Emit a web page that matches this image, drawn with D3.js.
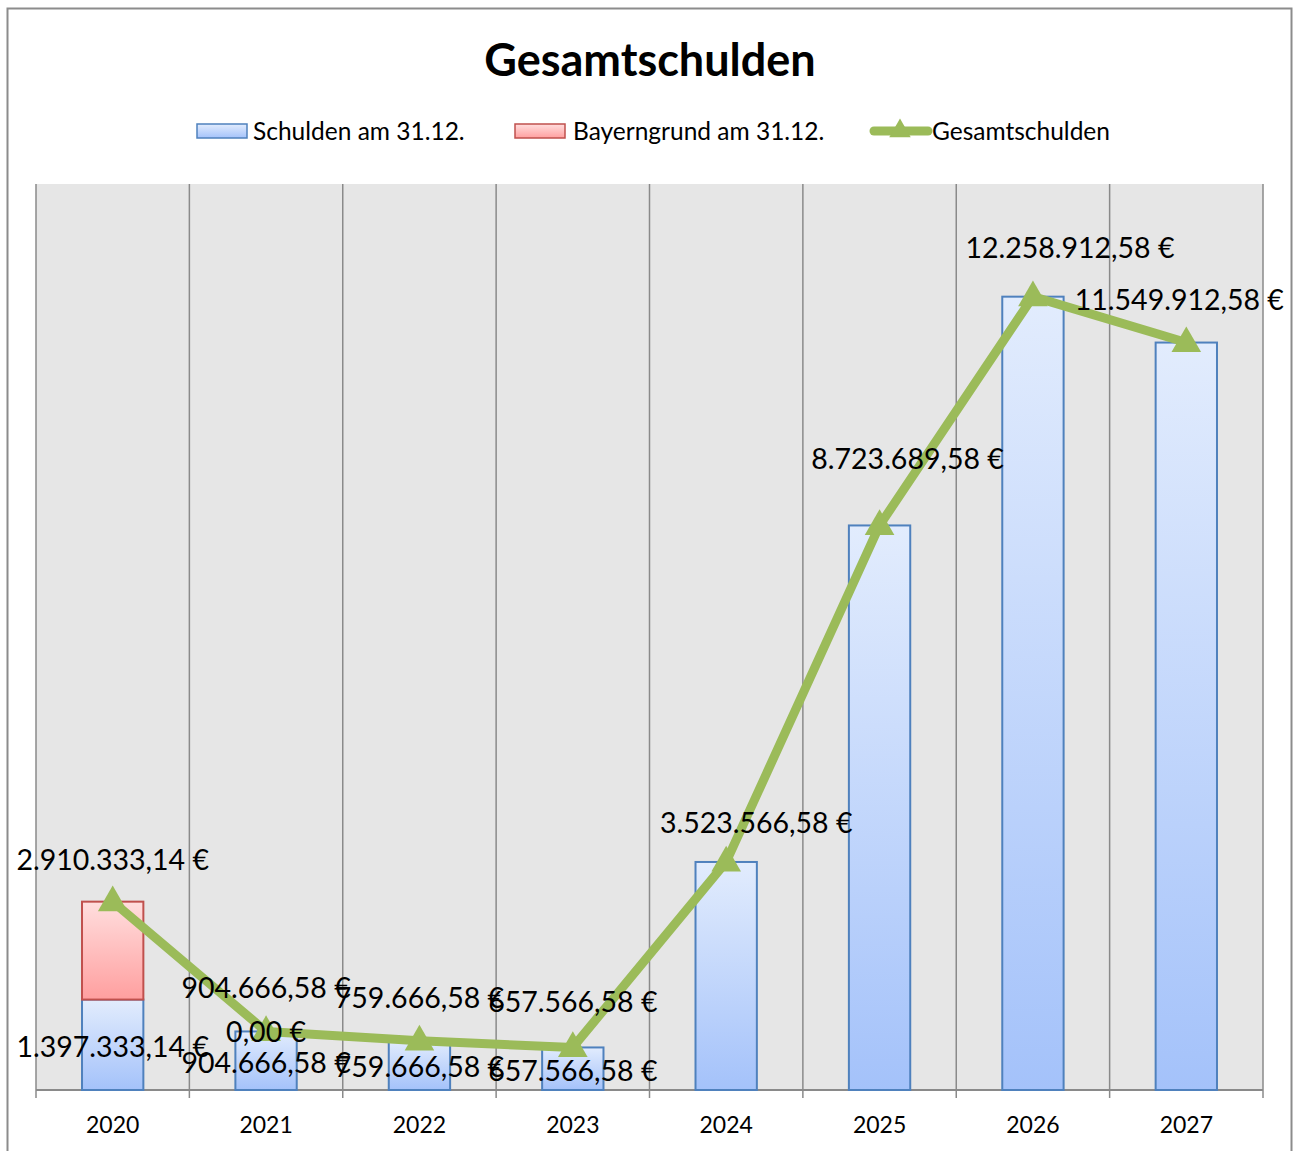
<!DOCTYPE html>
<html><head><meta charset="utf-8">
<script src="https://cdn.jsdelivr.net/npm/d3@7"></script>
<style>html,body{margin:0;padding:0;background:#fff}svg{display:block}</style>
</head><body>
<script>
const years = ["2020","2021","2022","2023","2024","2025","2026","2027"];
const schulden = [1397333.14, 904666.58, 759666.58, 657566.58, 3523566.58, 8723689.58, 12258912.58, 11549912.58];
const bayerngrund = [1513000.00, 0, null, null, null, null, null, null];
const gesamt = [2910333.14, 904666.58, 759666.58, 657566.58, 3523566.58, 8723689.58, 12258912.58, 11549912.58];
const showSchuldenLabel = [true, true, true, true, false, false, false, false];
const showBayernLabel = [false, true, false, false, false, false, false, false];
const yTicksMax = 14000000;
// label layout nudges (pixels), not data
const lineLabelNudge = [[0,-43],[0,-44],[0,-44],[0,-46],[30,-40],[28,-67],[37,-50],[-7,-44]];

const W = 1296, H = 1151;
const svg = d3.select("body").append("svg").attr("width", W).attr("height", H);
const defs = svg.append("defs");
const gb = defs.append("linearGradient").attr("id","gBlue").attr("x1",0).attr("y1",0).attr("x2",0).attr("y2",1);
gb.append("stop").attr("offset","0%").attr("stop-color","#e2ecfd");
gb.append("stop").attr("offset","100%").attr("stop-color","#a4c2fa");
const gr = defs.append("linearGradient").attr("id","gRed").attr("x1",0).attr("y1",0).attr("x2",0).attr("y2",1);
gr.append("stop").attr("offset","0%").attr("stop-color","#ffdede");
gr.append("stop").attr("offset","100%").attr("stop-color","#ff9f9f");

// outer border
svg.append("rect").attr("x",7.5).attr("y",8.5).attr("width",1284).attr("height",1160)
  .attr("fill","#fff").attr("stroke","#8c8c8c").attr("stroke-width",2);

const L = 36, R = 1263, T = 184, B = 1090;
const xGrid = d3.scaleBand().domain(years).range([L, R]).padding(0);
const x = d3.scaleBand().domain(years).range([L, R]).paddingInner(0.6).paddingOuter(0.3);
const y = d3.scaleLinear().domain([0, yTicksMax]).range([B, T]);
const fmt = v => {
  const s = v.toFixed(2).split(".");
  return s[0].replace(/\B(?=(\d{3})+(?!\d))/g, ".") + "," + s[1] + " €";
};

// plot background
svg.append("rect").attr("x",L).attr("y",T).attr("width",R-L).attr("height",B-T).attr("fill","#e6e6e6");
// vertical gridlines at category boundaries
const bounds = years.map(d => xGrid(d)).concat([R]);
svg.append("g").selectAll("line").data(bounds).join("line")
  .attr("x1", d=>d).attr("x2", d=>d).attr("y1", T).attr("y2", B)
  .attr("stroke","#8a8a8a").attr("stroke-width",1.5);

// x axis
const ax = svg.append("g").attr("transform",`translate(0,${B})`);
ax.append("line").attr("x1",L).attr("x2",R).attr("stroke","#8a8a8a").attr("stroke-width",2);
ax.selectAll("line.tk").data(bounds).join("line").attr("class","tk")
  .attr("x1",d=>d).attr("x2",d=>d).attr("y1",0).attr("y2",8).attr("stroke","#8a8a8a").attr("stroke-width",1.5);
ax.selectAll("text").data(years).join("text")
  .attr("x", d => xGrid(d) + xGrid.bandwidth()/2).attr("y", 43)
  .attr("text-anchor","middle").attr("font-family","Lato, 'Open Sans', sans-serif").attr("font-size",23)
  .attr("fill","#000").text(d=>d);

// bars
const bars = svg.append("g");
bars.selectAll("rect.s").data(years).join("rect").attr("class","s")
  .attr("x", d => x(d)).attr("width", x.bandwidth())
  .attr("y", (d,i) => y(schulden[i])).attr("height", (d,i) => B - y(schulden[i]))
  .attr("fill","url(#gBlue)").attr("stroke","#4f81bd").attr("stroke-width",2);
bars.selectAll("rect.b").data(years.filter((d,i)=>bayerngrund[i])).join("rect").attr("class","b")
  .attr("x", d => x(d)).attr("width", x.bandwidth())
  .attr("y", d => { const i = years.indexOf(d); return y(schulden[i] + bayerngrund[i]); })
  .attr("height", d => { const i = years.indexOf(d); return y(schulden[i]) - y(schulden[i] + bayerngrund[i]); })
  .attr("fill","url(#gRed)").attr("stroke","#c0504d").attr("stroke-width",2);

// line
const cx = d => x(d) + x.bandwidth()/2;
const line = d3.line().x((d,i)=>cx(years[i])).y(d=>y(d));
svg.append("path").datum(gesamt).attr("d", line)
  .attr("fill","none").attr("stroke","#9bbb59").attr("stroke-width",9).attr("stroke-linejoin","round");
const tri = d3.symbol().type(d3.symbolTriangle).size(380);
svg.append("g").selectAll("path").data(gesamt).join("path")
  .attr("transform",(d,i)=>`translate(${cx(years[i])},${y(d)+1})`)
  .attr("d", tri).attr("fill","#9bbb59");

// labels
const lab = svg.append("g").attr("font-family","Lato, 'Open Sans', sans-serif").attr("font-size",28.5)
  .attr("fill","#000").attr("text-anchor","middle").attr("dominant-baseline","central");
years.forEach((d,i) => {
  if (showSchuldenLabel[i]) {
    lab.append("text").attr("x", cx(d)).attr("y", (y(schulden[i]) + B)/2 + 1).text(fmt(schulden[i]));
  }
});
years.forEach((d,i) => {
  const n = lineLabelNudge[i];
  lab.append("text").attr("x", cx(d) + n[0]).attr("y", y(gesamt[i]) + n[1]).text(fmt(gesamt[i]));
});
years.forEach((d,i) => {
  if (showBayernLabel[i]) {
    const top = y(schulden[i] + bayerngrund[i]), bot = y(schulden[i]);
    lab.append("text").attr("x", cx(d)).attr("y", (top+bot)/2).text(fmt(bayerngrund[i]));
  }
});

// title
svg.append("text").attr("x", 650).attr("y", 76).attr("text-anchor","middle")
  .attr("font-family","Lato, 'Open Sans', sans-serif").attr("font-weight","bold").attr("font-size",45)
  .text("Gesamtschulden");

// legend
const lg = svg.append("g").attr("font-family","Lato, 'Open Sans', sans-serif").attr("font-size",24.5);
const legendItems = [
  {name:"Schulden am 31.12.", type:"bar", fill:"url(#gBlue)", stroke:"#4f81bd", x:197, tx:253},
  {name:"Bayerngrund am 31.12.", type:"bar", fill:"url(#gRed)", stroke:"#c0504d", x:515, tx:573},
  {name:"Gesamtschulden", type:"line", x:870, tx:932}
];
legendItems.forEach(it => {
  if (it.type === "bar") {
    lg.append("rect").attr("x", it.x).attr("y",124).attr("width",50).attr("height",14)
      .attr("fill", it.fill).attr("stroke", it.stroke).attr("stroke-width",1.5);
  } else {
    lg.append("line").attr("x1", it.x+4).attr("x2", it.x+58).attr("y1",131).attr("y2",131)
      .attr("stroke","#9bbb59").attr("stroke-width",9).attr("stroke-linecap","round");
    lg.append("path").attr("transform",`translate(${it.x+30},131)`).attr("d", d3.symbol().type(d3.symbolTriangle).size(200)).attr("fill","#9bbb59");
  }
  lg.append("text").attr("x", it.tx).attr("y",140).text(it.name);
});
</script>
</body></html>
